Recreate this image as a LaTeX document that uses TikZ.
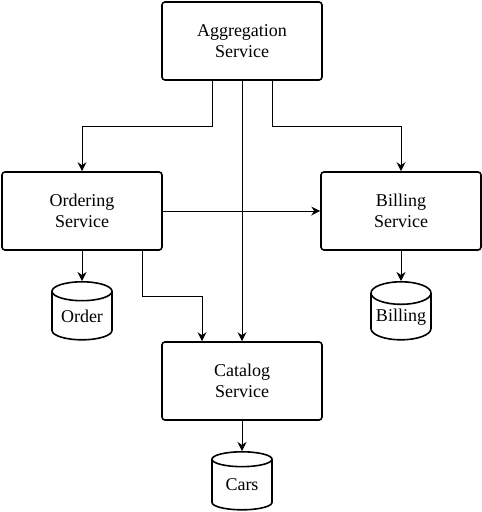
\documentclass[tikz,border=0pt]{standalone}
\usepackage{fontspec}
\setmainfont{Liberation Serif}
\usetikzlibrary{arrows.meta,shapes.geometric}
\begin{document}
\begin{tikzpicture}
    [   x=1pt,y=-1pt,
        service/.style={draw=black,line width=1.6pt,rounded corners=3pt,minimum width=160pt,minimum height=78pt,align=center,font=\fontsize{18}{21}\selectfont},
        store/.style={draw=black,line width=1.6pt,cylinder,shape border rotate=90,aspect=0.45,minimum width=60pt,minimum height=58pt,inner sep=0pt,anchor=north,font=\fontsize{18}{21}\selectfont},
        link/.style={line width=1pt,-{Stealth[length=9pt,width=9pt,inset=3pt]}},
    ]
        \useasboundingbox (0,0) rectangle (482,512);
        \node[service] (agg) at (242,41) {Aggregation\\Service};
        \node[service] (ord) at (82,211) {Ordering\\Service};
        \node[service] (bill) at (401,211) {Billing\\Service};
        \node[service] (cat) at (242,381) {Catalog\\Service};
        \node[store] (order) at (82,281) {Order};
        \node[store] (billing) at (401,281) {Billing};
        \node[store] (cars) at (242,451) {Cars};
        \draw[link] ([xshift=-30pt]agg.south) |- ([yshift=45pt]ord.north) -- (ord.north);
        \draw[link] ([xshift=30pt]agg.south) |- ([yshift=45pt]bill.north) -- (bill.north);
        \draw[link] (agg.south) -- (cat.north);
        \draw[link] (ord.east) -- (bill.west);
        \draw[link] ([xshift=60pt]ord.south) |- ([xshift=-40pt,yshift=45pt]cat.north) -- ([xshift=-40pt]cat.north);
        \foreach \a/\b in {ord/order,bill/billing,cat/cars}
        {   \draw[link] (\a.south) -- (\b.north);
        }
    \end{tikzpicture}
\end{document}
